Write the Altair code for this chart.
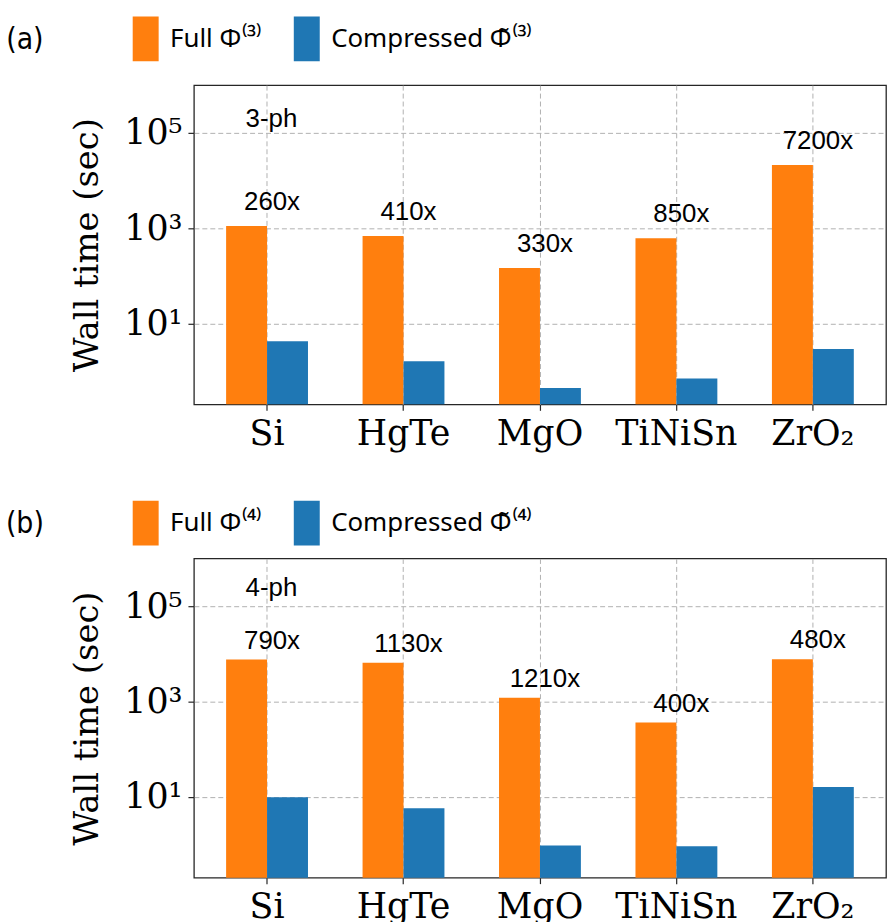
import altair as alt
import pandas as pd

materials = ["Si", "HgTe", "MgO", "TiNiSn", "ZrO₂"]

full_3ph = [1100, 680, 145, 615, 21000]
compressed_3ph = [4.2, 1.6, 0.44, 0.70, 2.9]
speedup_3ph = ["260x", "410x", "330x", "850x", "7200x"]

full_4ph = [7600, 6500, 1200, 360, 7700]
compressed_4ph = [9.7, 5.7, 0.95, 0.91, 16.0]
speedup_4ph = ["790x", "1130x", "1210x", "400x", "480x"]

series_3ph = ["Full Φ⁽³⁾", "Compressed Φ̃⁽³⁾"]
series_4ph = ["Full Φ⁽⁴⁾", "Compressed Φ̃⁽⁴⁾"]
colors = ["#ff7f0e", "#1f77b4"]
y_ticks = [10, 1000, 100000]
y_domain = [0.2, 1e6]

SERIF = "DejaVu Serif"
SANS = "Liberation Sans"
LEG = "Noto Sans"
TAG = "DejaVu Sans Condensed, DejaVu Sans"
RECT = "M-0.58,-1L0.58,-1L0.58,1L-0.58,1Z"

W, H = 696, 321
PAD_IN, PAD_OUT = 0.4, 0.236
band = 0.6 * W / (len(materials) - PAD_IN + 2 * PAD_OUT)  # pair width in px
shift = band / 4


def panel(full, comp, speed, series, tag, order, legend_y, tag_y, order_y, label_dy):
    base = [y_domain[0]] * len(materials)
    df_full = pd.DataFrame({"material": materials, "time": full, "base": base,
                            "series": [series[0]] * len(materials)})
    df_comp = pd.DataFrame({"material": materials, "time": comp, "base": base,
                            "series": [series[1]] * len(materials)})
    labels = pd.DataFrame({"material": materials, "time": full, "speedup": speed})

    x = alt.X("material:N", sort=materials, title=None,
              scale=alt.Scale(paddingInner=PAD_IN, paddingOuter=PAD_OUT),
              axis=alt.Axis(labelAngle=0, bandPosition=0.5, labelPadding=6))
    y = alt.Y("time:Q", title="Wall time (sec)",
              scale=alt.Scale(type="log", domain=y_domain, nice=False),
              axis=alt.Axis(values=y_ticks, titlePadding=19, labelPadding=6,
                            labelExpr="datum.value == 10 ? '10¹' : datum.value == 1000 ? '10³' : '10⁵'"))
    color = alt.Color("series:N", sort=series,
                      scale=alt.Scale(domain=series, range=colors),
                      legend=alt.Legend(orient="none", legendX=-71, legendY=legend_y,
                                        direction="horizontal", title=None,
                                        symbolType=RECT, symbolSize=2025,
                                        symbolStrokeWidth=0, symbolOpacity=1,
                                        labelFont=LEG, labelFontSize=26,
                                        labelColor="black", labelOffset=2,
                                        labelLimit=400, columnPadding=22, padding=0))

    bar_full = alt.Chart(df_full).mark_bar(
        width=alt.RelativeBandSize(0.5), xOffset=-shift
    ).encode(x=x, y=y, y2=alt.Y2("base:Q"), color=color)
    bar_comp = alt.Chart(df_comp).mark_bar(
        width=alt.RelativeBandSize(0.5), xOffset=shift
    ).encode(x=x, y=y, y2=alt.Y2("base:Q"), color=color)

    txt = alt.Chart(labels).mark_text(
        font=SANS, fontSize=26, color="black", align="center",
        baseline="alphabetic", dx=5, dy=label_dy,
    ).encode(x=alt.X("material:N", sort=materials), y=alt.Y("time:Q"), text="speedup:N")

    tag_txt = alt.Chart(pd.DataFrame({"t": [tag]})).mark_text(
        font=TAG, fontSize=30, color="black", align="center", baseline="middle",
    ).encode(x=alt.value(-170), y=alt.value(tag_y), text="t:N")

    order_txt = alt.Chart(pd.DataFrame({"t": [order]})).mark_text(
        font=SANS, fontSize=26, color="black", align="center", baseline="alphabetic",
    ).encode(x=alt.value(78), y=alt.value(order_y), text="t:N")

    return alt.layer(bar_full, bar_comp, txt, tag_txt, order_txt).properties(width=W, height=H)


a = panel(full_3ph, compressed_3ph, speedup_3ph, series_3ph, "(a)", "3-ph",
          legend_y=-69, tag_y=-45, order_y=42, label_dy=-16)
b = panel(full_4ph, compressed_4ph, speedup_4ph, series_4ph, "(b)", "4-ph",
          legend_y=-58, tag_y=-35, order_y=38, label_dy=-11)

chart = alt.vconcat(a, b, spacing=48).resolve_scale(color="independent").configure_view(
    stroke="#262626", strokeWidth=1.3
).configure_axis(
    domain=False, grid=True, gridDash=[5, 3], gridColor="#b0b0b0", gridWidth=1,
    tickColor="#262626", tickSize=6, tickWidth=1.2,
    labelFont=SERIF, labelFontSize=35, labelColor="black",
    titleFont=SERIF, titleFontSize=34, titleFontWeight="normal", titleColor="black",
).properties(padding={"left": 5, "top": 13, "right": 0, "bottom": 0})

chart.save("out.html", embed_options={"renderer": "svg", "actions": False})
